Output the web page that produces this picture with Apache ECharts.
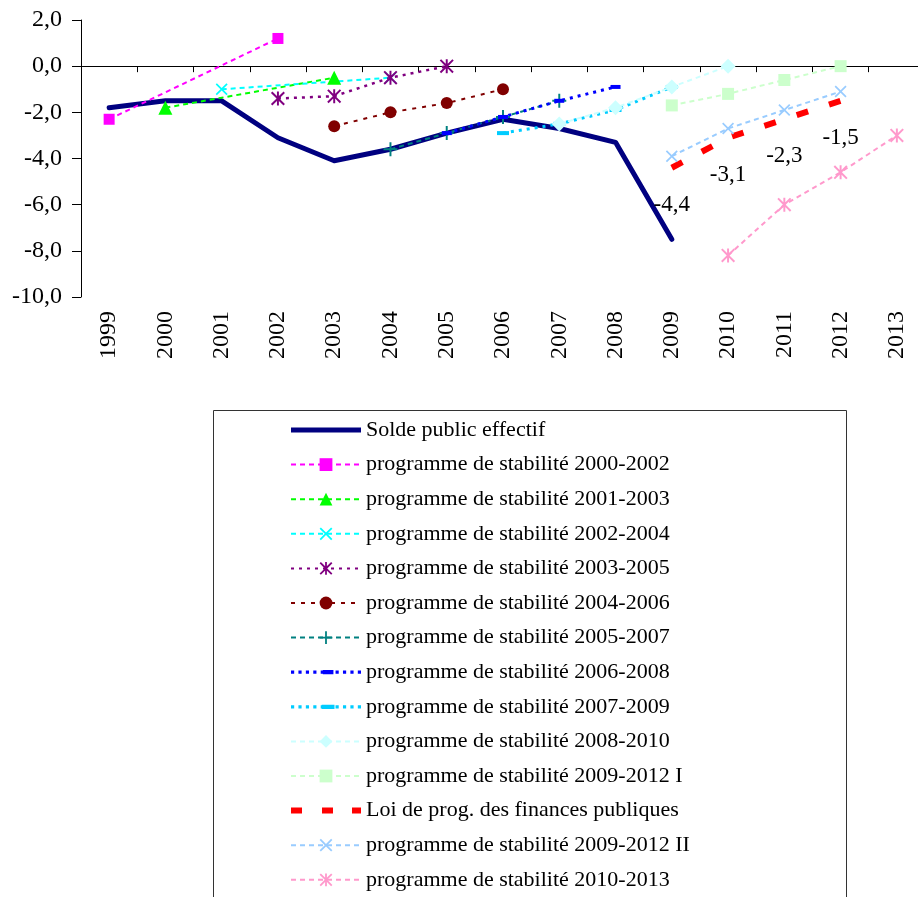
<!DOCTYPE html>
<html>
<head>
<meta charset="utf-8">
<script src="https://cdn.jsdelivr.net/npm/echarts@6/dist/echarts.min.js"></script>
<style>
  html, body { margin: 0; padding: 0; background: #fff; overflow: hidden; }
  #chart { width: 925px; height: 897px; }
</style>
</head>
<body>
<div id="chart"></div>
<script>
  // années (axe des x)
  var years = ['1999', '2000', '2001', '2002', '2003', '2004', '2005', '2006', '2007', '2008', '2009', '2010', '2011', '2012', '2013']

  // valeurs, une case par année
  var solde   = [-1.8, -1.5, -1.5, -3.1, -4.1, -3.6, -2.9, -2.3, -2.7, -3.3, -7.5, null, null, null, null]
  var ps0002  = [-2.3, null, null, 1.2, null, null, null, null, null, null, null, null, null, null, null]
  var ps0103  = [null, -1.8, null, null, -0.5, null, null, null, null, null, null, null, null, null, null]
  var ps0204  = [null, null, -1.0, null, null, -0.5, null, null, null, null, null, null, null, null, null]
  var ps0305  = [null, null, null, -1.4, -1.3, -0.5, 0.0, null, null, null, null, null, null, null, null]
  var ps0406  = [null, null, null, null, -2.6, -2.0, -1.6, -1.0, null, null, null, null, null, null, null]
  var ps0507  = [null, null, null, null, null, -3.6, -2.9, -2.2, -1.5, null, null, null, null, null, null]
  var ps0608  = [null, null, null, null, null, null, -2.9, -2.2, -1.5, -0.9, null, null, null, null, null]
  var ps0709  = [null, null, null, null, null, null, null, -2.9, -2.5, -1.9, -0.9, null, null, null, null]
  var ps0810  = [null, null, null, null, null, null, null, null, -2.5, -1.8, -0.9, 0.0, null, null, null]
  var ps0912a = [null, null, null, null, null, null, null, null, null, null, -1.7, -1.2, -0.6, 0.0, null]
  var lpfp    = [null, null, null, null, null, null, null, null, null, null, -4.4, -3.1, -2.3, -1.5, null]
  var ps0912b = [null, null, null, null, null, null, null, null, null, null, -3.9, -2.7, -1.9, -1.1, null]
  var ps1013  = [null, null, null, null, null, null, null, null, null, null, null, -8.2, -6.0, -4.6, -3.0]

  var yTicks = { min: -10, max: 2, step: 2 }

  var FONT = 'Liberation Serif'
  var symX = 'path://M0,1 L1,0 L5,4 L9,0 L10,1 L6,5 L10,9 L9,10 L5,6 L1,10 L0,9 L4,5 Z'
  var symStar = 'path://M0,1 L1,0 L5,4 L9,0 L10,1 L6,5 L10,9 L9,10 L5,6 L1,10 L0,9 L4,5 Z M4.3,0 L5.7,0 L5.7,10 L4.3,10 Z'
  var symPlus = 'path://M4.3,0 L5.7,0 L5.7,4.3 L10,4.3 L10,5.7 L5.7,5.7 L5.7,10 L4.3,10 L4.3,5.7 L0,5.7 L0,4.3 L4.3,4.3 Z'

  function comma(v) {
    return Number(v).toFixed(1).replace('.', ',')
  }

  // petites icônes de légende dessinées à la main (boîte de 70 px de large)
  function box(x, y, w, h) {
    return 'M' + x + ',' + y + ' L' + (x + w) + ',' + y + ' L' + (x + w) + ',' + (y + h) + ' L' + x + ',' + (y + h) + ' Z '
  }
  function iconLine(dash, gap, thick, mw, mh) {
    var p = ''
    var h = Math.max(thick, mh)
    for (var x = 0; x < 70; x += dash + gap) {
      p += box(x, (h - thick) / 2, Math.min(dash, 70 - x), thick)
    }
    if (mw) p += box(35 - mw / 2, (h - mh) / 2, mw, mh)
    return 'path://' + p
  }

  function prog(name, data, color, symbol, size, dash, width) {
    return {
      name: name,
      type: 'line',
      data: data,
      connectNulls: true,
      symbol: symbol,
      symbolSize: size,
      showAllSymbol: true,
      itemStyle: { color: color },
      lineStyle: { color: color, width: width || 2, type: dash || [5, 4] },
      emphasis: { disabled: true }
    }
  }

  var series = [
    {
      name: 'Solde public effectif',
      type: 'line',
      data: solde,
      symbol: 'none',
      itemStyle: { color: '#000080' },
      lineStyle: { color: '#000080', width: 5, cap: 'round', join: 'round' },
      emphasis: { disabled: true }
    },
    prog('programme de stabilité 2000-2002', ps0002, '#FF00FF', 'rect', 11),
    prog('programme de stabilité 2001-2003', ps0103, '#00FF00', 'triangle', 14),
    prog('programme de stabilité 2002-2004', ps0204, '#00FFFF', symX, 12),
    prog('programme de stabilité 2003-2005', ps0305, '#800080', symStar, 14, [3, 5], 2.5),
    prog('programme de stabilité 2004-2006', ps0406, '#800000', 'circle', 12, [4, 6]),
    prog('programme de stabilité 2005-2007', ps0507, '#008080', symPlus, 14, [5, 4]),
    prog('programme de stabilité 2006-2008', ps0608, '#0000FF', 'rect', [10, 4], [3, 5], 3),
    prog('programme de stabilité 2007-2009', ps0709, '#00CCFF', 'rect', [12, 4], [3, 5], 3),
    prog('programme de stabilité 2008-2010', ps0810, '#CCFFFF', 'diamond', 15),
    prog('programme de stabilité 2009-2012 I', ps0912a, '#CCFFCC', 'rect', 12),
    {
      name: 'Loi de prog. des finances publiques',
      type: 'line',
      data: lpfp,
      symbol: 'rect',
      symbolSize: 1,
      itemStyle: { color: 'rgba(0,0,0,0)' },
      lineStyle: { color: '#FF0000', width: 6, type: [12, 22] },
      label: {
        show: true,
        position: 'bottom',
        distance: 25,
        color: '#000',
        fontFamily: FONT,
        fontSize: 23,
        formatter: function (p) { return comma(p.value) }
      },
      emphasis: { disabled: true }
    },
    prog('programme de stabilité 2009-2012 II', ps0912b, '#99CCFF', symX, 12),
    prog('programme de stabilité 2010-2013', ps1013, '#FF99CC', symStar, 14)
  ]

  // entrées de légende : mêmes noms, quelques icônes ajustées
  var legendData = series.map(function (s) { return { name: s.name } })
  legendData[0].icon = 'path://' + box(0, 0, 70, 5)
  legendData[7].icon = iconLine(3, 4, 3, 10, 4)
  legendData[8].icon = iconLine(3, 4, 3, 12, 4)
  legendData[11].icon = 'path://' + box(0, 0, 11, 6) + box(31, 0, 11, 6) + box(61, 0, 9, 6)
  legendData[11].itemStyle = { color: '#FF0000' }

  var chart = echarts.init(document.getElementById('chart'))
  chart.setOption({
    animation: false,
    backgroundColor: '#fff',
    textStyle: { fontFamily: FONT, color: '#000' },
    grid: { left: 81, top: 20, right: 0, bottom: 600, containLabel: false },
    xAxis: [
      {
        type: 'category',
        data: years,
        axisLine: { show: true, onZero: true, lineStyle: { color: '#000', width: 1 } },
        axisTick: { show: true, length: 6, lineStyle: { color: '#000' } },
        axisLabel: { show: false },
        splitLine: { show: false }
      },
      {
        type: 'category',
        data: years,
        position: 'bottom',
        axisLine: { show: false, onZero: false },
        axisTick: { show: false },
        axisLabel: { rotate: 90, margin: 14, fontSize: 24, fontFamily: FONT, color: '#000' },
        splitLine: { show: false }
      }
    ],
    yAxis: {
      type: 'value',
      min: yTicks.min,
      max: yTicks.max,
      interval: yTicks.step,
      axisLine: { show: true, lineStyle: { color: '#000', width: 1 } },
      axisTick: { show: true, length: 9, lineStyle: { color: '#000' } },
      axisLabel: { margin: 19, fontSize: 24, fontFamily: FONT, color: '#000', formatter: comma },
      splitLine: { show: false }
    },
    legend: {
      orient: 'vertical',
      left: 290,
      top: 418,
      padding: 0,
      itemWidth: 70,
      itemHeight: 16,
      itemGap: 10.6,
      selectedMode: false,
      textStyle: { fontSize: 22, lineHeight: 24, fontFamily: FONT, color: '#000' },
      data: legendData
    },
    graphic: [{
      type: 'rect',
      shape: { x: 213.5, y: 410.5, width: 633, height: 520 },
      style: { fill: 'none', stroke: '#333', lineWidth: 1 },
      silent: true
    }],
    series: series
  })
</script>
</body>
</html>
